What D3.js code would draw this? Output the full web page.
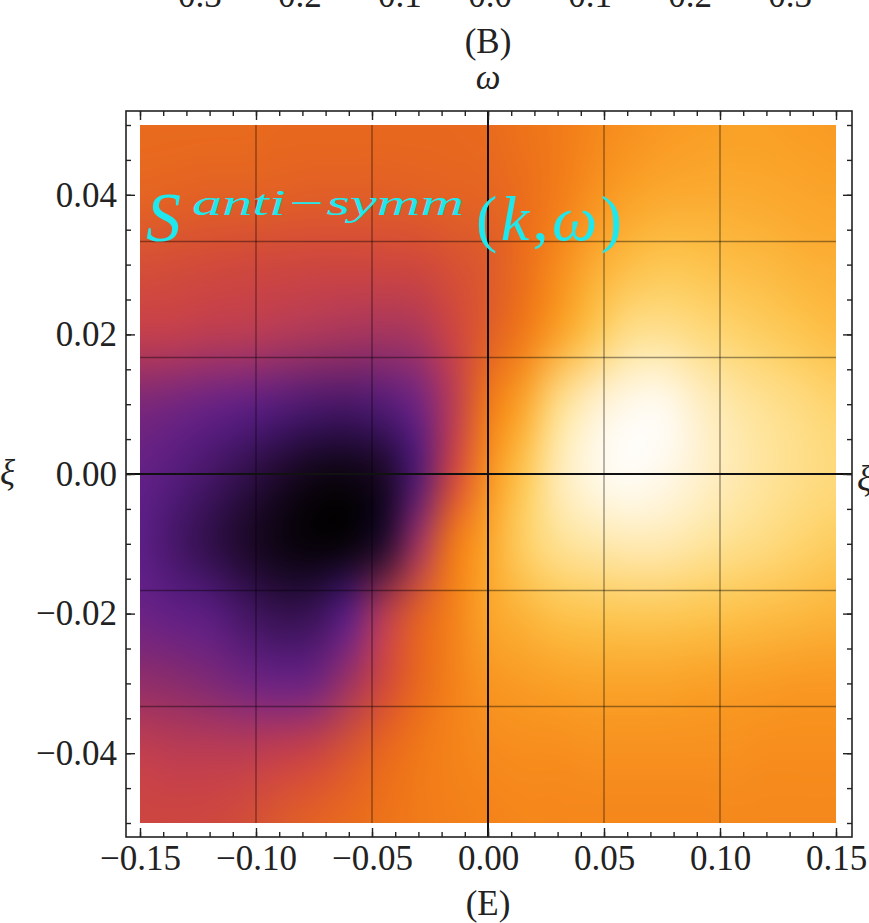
<!DOCTYPE html>
<html>
<head>
<meta charset="utf-8">
<script src="https://cdn.jsdelivr.net/npm/d3@7"></script>
<style>
  html, body { margin: 0; padding: 0; background: #fff; overflow: hidden; }
  svg { display: block; }
</style>
</head>
<body>
<svg id="chart"></svg>
<script>
// grid of the density plot (k across, xi down), values are the colour parameter 0 (black) .. 1 (white)
const kValues = [-0.15, -0.135, -0.12, -0.105, -0.09, -0.075, -0.06, -0.045, -0.03, -0.015, 0,
                 0.015, 0.03, 0.045, 0.06, 0.075, 0.09, 0.105, 0.12, 0.135, 0.15];
const xiValues = [0.05, 0.04, 0.03, 0.02, 0.01, 0, -0.01, -0.02, -0.03, -0.04, -0.05];
const sValues = [
  [0.655, 0.655, 0.655, 0.655, 0.65, 0.65, 0.65, 0.65, 0.65, 0.65, 0.655, 0.67, 0.685, 0.71, 0.73, 0.745, 0.755, 0.76, 0.76, 0.755, 0.75],
  [0.64, 0.635, 0.63, 0.63, 0.63, 0.625, 0.625, 0.625, 0.63, 0.635, 0.64, 0.66, 0.69, 0.73, 0.76, 0.775, 0.78, 0.78, 0.775, 0.77, 0.765],
  [0.585, 0.58, 0.575, 0.57, 0.565, 0.56, 0.56, 0.565, 0.57, 0.59, 0.61, 0.66, 0.72, 0.78, 0.82, 0.84, 0.835, 0.82, 0.81, 0.795, 0.79],
  [0.525, 0.52, 0.51, 0.505, 0.495, 0.485, 0.475, 0.47, 0.48, 0.55, 0.62, 0.68, 0.76, 0.84, 0.90, 0.91, 0.89, 0.87, 0.855, 0.84, 0.82],
  [0.40, 0.385, 0.365, 0.34, 0.31, 0.28, 0.27, 0.30, 0.38, 0.50, 0.68, 0.77, 0.90, 0.96, 0.985, 0.99, 0.96, 0.93, 0.91, 0.89, 0.87],
  [0.35, 0.31, 0.26, 0.19, 0.11, 0.05, 0.04, 0.09, 0.29, 0.55, 0.73, 0.84, 0.94, 0.98, 0.995, 0.985, 0.965, 0.94, 0.92, 0.90, 0.885],
  [0.33, 0.26, 0.18, 0.10, 0.04, 0.01, 0.015, 0.11, 0.46, 0.68, 0.77, 0.86, 0.91, 0.93, 0.94, 0.94, 0.925, 0.905, 0.89, 0.87, 0.855],
  [0.37, 0.345, 0.32, 0.26, 0.20, 0.22, 0.33, 0.50, 0.63, 0.70, 0.77, 0.80, 0.83, 0.84, 0.845, 0.845, 0.84, 0.83, 0.82, 0.81, 0.80],
  [0.44, 0.43, 0.41, 0.385, 0.37, 0.38, 0.46, 0.57, 0.65, 0.70, 0.74, 0.75, 0.76, 0.765, 0.765, 0.765, 0.76, 0.755, 0.75, 0.745, 0.745],
  [0.52, 0.51, 0.51, 0.51, 0.525, 0.55, 0.60, 0.65, 0.68, 0.705, 0.72, 0.725, 0.725, 0.73, 0.73, 0.73, 0.73, 0.73, 0.725, 0.725, 0.725],
  [0.56, 0.56, 0.565, 0.58, 0.61, 0.635, 0.655, 0.67, 0.685, 0.695, 0.705, 0.71, 0.71, 0.71, 0.71, 0.71, 0.71, 0.715, 0.715, 0.715, 0.715]
];

// sunset-like colour ramp
const colorStops = [0, 0.04, 0.10, 0.17, 0.24, 0.33, 0.37, 0.43, 0.50, 0.53, 0.57, 0.61, 0.65, 0.68,
                    0.72, 0.76, 0.80, 0.84, 0.88, 0.92, 0.96, 1];
const colorHex = ['#000000', '#0c0410', '#1c0828', '#2c0e44', '#3e145e', '#5c1e86', '#6a2286', '#8a2c6c',
                  '#b83c56', '#c8404a', '#d0483c', '#dc5a2c', '#e8681e', '#f07818', '#f68a1c', '#faa026',
                  '#fcb43a', '#fdc650', '#fed878', '#fee49c', '#fff0cc', '#ffffff'];

const kTicks = [-0.15, -0.1, -0.05, 0, 0.05, 0.1, 0.15];
const kTickLabels = ['\u22120.15', '\u22120.10', '\u22120.05', '0.00', '0.05', '0.10', '0.15'];
const xiTicks = [0.04, 0.02, 0, -0.02, -0.04];
const xiTickLabels = ['0.04', '0.02', '0.00', '\u22120.02', '\u22120.04'];
const kGrid = [-0.1, -0.05, 0.05, 0.1];
const xiGrid = [0.0333, 0.0167, -0.0167, -0.0333];
// clipped tick labels of the panel above
const upperTicks = [-0.3, -0.2, -0.1, 0, 0.1, 0.2, 0.3];
const upperLabels = ['\u22120.3', '\u22120.2', '\u22120.1', '0.0', '0.1', '0.2', '0.3'];

const W = 869, H = 923;
const FONT = '"Liberation Serif", "Times New Roman", serif';
const FS = 35;
const frame = { left: 126, top: 111, right: 852, bottom: 837 };

const svg = d3.select('#chart').attr('width', W).attr('height', H);

const x = d3.scaleLinear().domain([-0.15, 0.15]).range([140, 836]);
const y = d3.scaleLinear().domain([-0.05, 0.05]).range([823, 125]);
const color = d3.scaleLinear().domain(colorStops).range(colorHex)
  .interpolate(d3.interpolateRgb).clamp(true);

// one pixel per grid value (edge pixels repeated once), scaled up smoothly on a canvas
const nk = kValues.length, nx = xiValues.length;
const small = document.createElement('canvas');
small.width = nk + 2;
small.height = nx + 2;
const sctx = small.getContext('2d');
for (let j = -1; j <= nx; j++) {
  for (let i = -1; i <= nk; i++) {
    const jj = Math.min(Math.max(j, 0), nx - 1);
    const ii = Math.min(Math.max(i, 0), nk - 1);
    sctx.fillStyle = color(sValues[jj][ii]);
    sctx.fillRect(i + 1, j + 1, 1, 1);
  }
}

const px0 = x(-0.15), px1 = x(0.15), py0 = y(0.05), py1 = y(-0.05);
const cellW = x(kValues[1]) - x(kValues[0]);
const cellH = y(xiValues[1]) - y(xiValues[0]);

const big = document.createElement('canvas');
big.width = Math.round(px1 - px0);
big.height = Math.round(py1 - py0);
const bctx = big.getContext('2d');
bctx.imageSmoothingEnabled = true;
bctx.imageSmoothingQuality = 'high';
bctx.filter = 'blur(5px)';
bctx.drawImage(small,
  x(kValues[0]) - px0 - cellW * 1.5, y(xiValues[0]) - py0 - cellH * 1.5,
  cellW * (nk + 2), cellH * (nx + 2));

svg.append('image')
  .attr('href', big.toDataURL())
  .attr('x', px0).attr('y', py0)
  .attr('width', big.width).attr('height', big.height)
  .attr('preserveAspectRatio', 'none');

// mesh lines
const grid = svg.append('g').attr('stroke', '#000').attr('stroke-opacity', 0.4).attr('stroke-width', 1.4);
grid.selectAll('.gv').data(kGrid).join('line')
  .attr('x1', d => x(d)).attr('x2', d => x(d))
  .attr('y1', py0).attr('y2', py1);
grid.selectAll('.gh').data(xiGrid).join('line')
  .attr('x1', px0).attr('x2', px1)
  .attr('y1', d => y(d)).attr('y2', d => y(d));

// zero axes
svg.append('line')
  .attr('x1', x(0)).attr('x2', x(0)).attr('y1', frame.top).attr('y2', frame.bottom)
  .attr('stroke', '#111').attr('stroke-width', 2);
svg.append('line')
  .attr('x1', frame.left).attr('x2', frame.right).attr('y1', y(0)).attr('y2', y(0))
  .attr('stroke', '#111').attr('stroke-width', 2);

// frame
svg.append('rect')
  .attr('x', frame.left).attr('y', frame.top)
  .attr('width', frame.right - frame.left).attr('height', frame.bottom - frame.top)
  .attr('fill', 'none').attr('stroke', '#222').attr('stroke-width', 1.6);

function styleAxis(g) {
  g.select('.domain').remove();
  g.selectAll('line').attr('stroke', '#222').attr('stroke-width', 1.4);
  g.attr('font-family', FONT).attr('font-size', FS);
  g.selectAll('text').attr('fill', '#222');
}

// minor ticks
svg.append('g').attr('transform', `translate(0,${frame.bottom})`)
  .call(d3.axisBottom(x).ticks(30).tickSize(-5).tickFormat('')).call(styleAxis);
svg.append('g').attr('transform', `translate(0,${frame.top})`)
  .call(d3.axisTop(x).ticks(30).tickSize(-5).tickFormat('')).call(styleAxis);
svg.append('g').attr('transform', `translate(${frame.left},0)`)
  .call(d3.axisLeft(y).ticks(20).tickSize(-5).tickFormat('')).call(styleAxis);
svg.append('g').attr('transform', `translate(${frame.right},0)`)
  .call(d3.axisRight(y).ticks(20).tickSize(-5).tickFormat('')).call(styleAxis);

// major ticks
svg.append('g').attr('transform', `translate(0,${frame.bottom})`)
  .call(d3.axisBottom(x).tickValues(kTicks).tickSize(-9).tickPadding(8)
    .tickFormat((d, i) => kTickLabels[i])).call(styleAxis);
svg.append('g').attr('transform', `translate(0,${frame.top})`)
  .call(d3.axisTop(x).tickValues(kTicks).tickSize(-9).tickFormat('')).call(styleAxis);
svg.append('g').attr('transform', `translate(${frame.left},0)`)
  .call(d3.axisLeft(y).tickValues(xiTicks).tickSize(-9).tickPadding(9)
    .tickFormat((d, i) => xiTickLabels[i])).call(styleAxis);
svg.append('g').attr('transform', `translate(${frame.right},0)`)
  .call(d3.axisRight(y).tickValues(xiTicks).tickSize(-9).tickFormat('')).call(styleAxis);

// texts around the frame
const upperX = d3.scaleLinear().domain([-0.3, 0.3]).range([190, 790]);
svg.append('g').selectAll('text').data(upperTicks).join('text')
  .attr('x', d => upperX(d)).attr('y', 7)
  .attr('text-anchor', 'middle')
  .attr('font-family', FONT).attr('font-size', FS).attr('fill', '#222')
  .text((d, i) => upperLabels[i]);

function label(txt, xx, yy, opts = {}) {
  return svg.append('text')
    .attr('x', xx).attr('y', yy)
    .attr('text-anchor', opts.anchor || 'middle')
    .attr('font-family', FONT).attr('font-size', opts.size || FS)
    .attr('font-style', opts.italic ? 'italic' : 'normal')
    .attr('fill', opts.fill || '#222')
    .text(txt);
}
label('(B)', 488, 53);
label('\u03c9', 488, 89, { italic: true });
label('(E)', 488, 915);
label('\u03be', 15, 484, { italic: true, anchor: 'end' });
label('\u03be', 857, 490, { italic: true, anchor: 'start' });

// in-plot annotation
const cyan = '#1ee8ee';
label('S', 146, 241, { italic: true, size: 70, fill: cyan, anchor: 'start' });
label('anti\u2212symm', 192, 215, { italic: true, size: 36, fill: cyan, anchor: 'start' })
  .attr('textLength', 272).attr('lengthAdjust', 'spacingAndGlyphs');
const kw = svg.append('text')
  .attr('x', 476).attr('y', 240)
  .attr('font-family', FONT).attr('font-size', 64).attr('fill', cyan)
  .attr('textLength', 146).attr('lengthAdjust', 'spacing');
kw.append('tspan').text('(');
kw.append('tspan').attr('font-style', 'italic').text('k');
kw.append('tspan').text(',');
kw.append('tspan').attr('font-style', 'italic').text('\u03c9');
kw.append('tspan').text(')');
</script>
</body>
</html>
